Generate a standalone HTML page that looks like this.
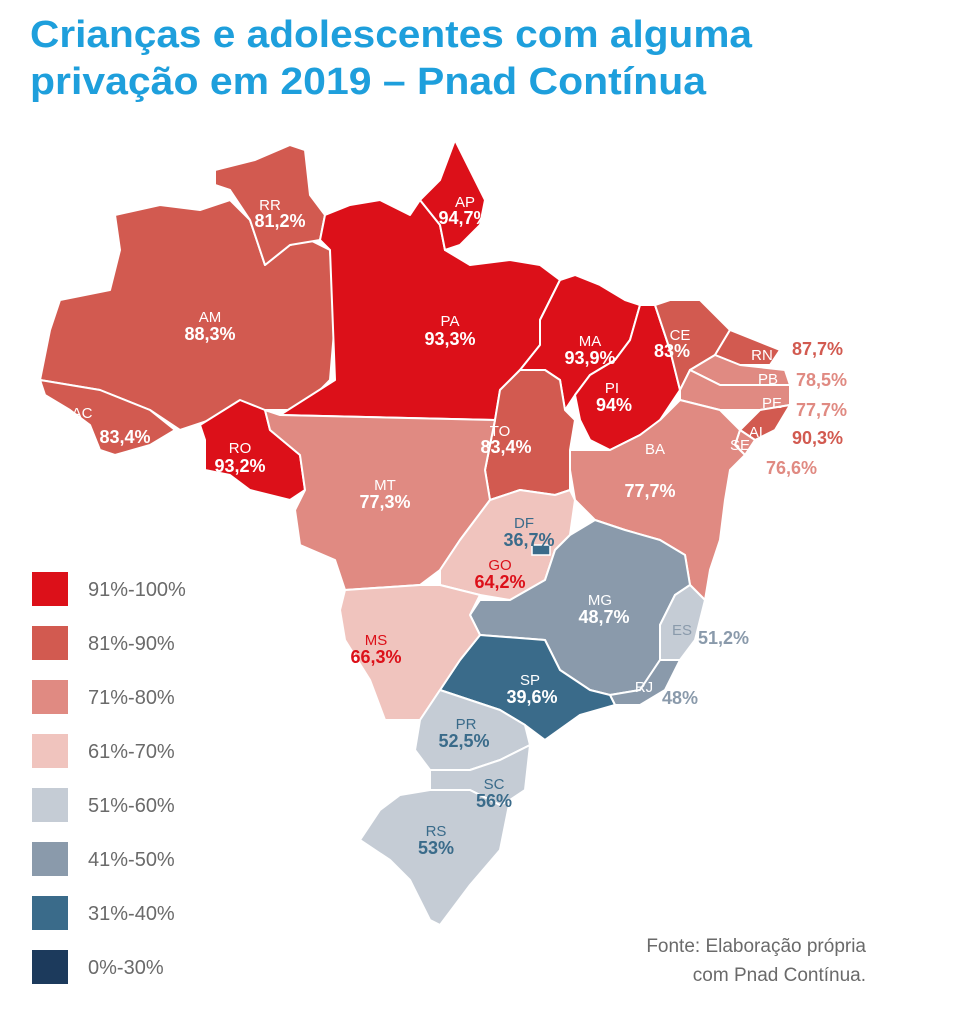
<!DOCTYPE html>
<html><head><meta charset="utf-8"><style>
body{margin:0;background:#fff;width:960px;height:1024px;overflow:hidden;font-family:"Liberation Sans",sans-serif}
</style></head><body>
<svg width="960" height="1024" viewBox="0 0 960 1024" xmlns="http://www.w3.org/2000/svg" font-family="Liberation Sans, sans-serif">
<text x="30" y="47" font-size="38" font-weight="bold" fill="#1e9fdc" textLength="722" lengthAdjust="spacingAndGlyphs">Crianças e adolescentes com alguma</text>
<text x="30" y="94" font-size="38" font-weight="bold" fill="#1e9fdc" textLength="676" lengthAdjust="spacingAndGlyphs">privação em 2019 – Pnad Contínua</text>
<g stroke="#fff" stroke-width="2" stroke-linejoin="round">
<polygon fill="#d25a50" points="40,380 50,330 60,300 110,290 120,250 115,215 160,205 200,210 230,200 250,220 265,265 290,245 310,240 330,250 335,320 330,380 300,410 230,410 210,420 180,430 150,410 100,390"/>
<polygon fill="#d25a50" points="40,380 100,390 150,410 175,430 150,445 115,455 100,450 90,425 70,410 45,395"/>
<polygon fill="#d25a50" points="215,170 255,160 290,145 305,150 310,195 325,215 320,240 290,245 265,265 250,220 230,190 215,185"/>
<polygon fill="#dc1019" points="200,425 240,400 265,410 270,430 300,455 305,490 290,500 250,490 230,475 205,470 205,440"/>
<polygon fill="#dc1019" points="325,215 350,205 380,200 410,215 420,200 440,225 445,250 470,265 510,260 540,265 560,280 540,320 540,345 520,370 500,390 495,420 280,415 335,380 330,250 320,240"/>
<polygon fill="#dc1019" points="420,200 440,180 455,140 470,170 485,200 480,225 460,245 445,250 440,225"/>
<polygon fill="#dc1019" points="560,280 575,275 600,285 625,300 640,305 630,340 615,360 590,375 575,395 565,410 560,380 545,370 520,370 540,345 540,320"/>
<polygon fill="#dc1019" points="640,305 655,305 670,350 680,390 660,420 640,435 610,450 590,440 580,420 575,395 590,375 615,360 630,340"/>
<polygon fill="#d25a50" points="655,305 670,300 700,300 730,330 715,355 690,370 680,390 670,350"/>
<polygon fill="#d25a50" points="730,330 755,340 780,350 770,365 740,365 715,355"/>
<polygon fill="#e08a82" points="715,355 740,365 785,370 790,385 740,385 720,385 690,370"/>
<polygon fill="#e08a82" points="690,370 720,385 790,385 790,405 760,410 720,410 680,400 680,390"/>
<polygon fill="#d25a50" points="760,410 790,405 775,430 755,440 740,430"/>
<polygon fill="#e08a82" points="740,430 755,440 745,455 735,445"/>
<polygon fill="#e08a82" points="640,435 660,420 680,400 720,410 740,430 735,445 745,455 730,470 725,500 720,540 710,570 705,600 690,585 685,555 660,540 625,530 595,520 575,500 570,470 570,450 610,450"/>
<polygon fill="#d25a50" points="495,420 500,390 520,370 545,370 560,380 565,410 575,420 570,450 570,470 570,490 555,495 520,490 490,500 485,470"/>
<polygon fill="#e08a82" points="280,415 495,420 485,470 490,500 475,520 460,540 440,570 420,585 345,590 335,560 300,545 295,510 305,490 300,455 270,430 265,410"/>
<polygon fill="#f0c4be" points="490,500 520,490 555,495 570,490 575,500 570,535 555,550 545,580 510,600 480,595 460,590 440,585 440,570 460,540 475,520"/>
<polygon fill="#8a9aab" points="570,535 595,520 625,530 660,540 685,555 690,585 675,595 660,625 660,660 640,690 610,695 590,690 560,670 545,640 480,635 470,615 480,600 510,600 545,580 555,550"/>
<polygon fill="#c5ccd5" points="690,585 705,600 695,640 680,660 660,660 660,625 675,595"/>
<polygon fill="#8a9aab" points="640,690 660,660 680,660 665,690 640,705 615,705 610,695"/>
<polygon fill="#3a6b8a" points="480,635 545,640 560,670 590,690 610,695 615,705 580,715 545,740 525,725 500,710 470,700 440,690 460,660"/>
<polygon fill="#f0c4be" points="345,590 420,585 440,585 460,590 480,595 470,615 480,635 460,660 440,690 420,720 385,720 370,680 345,640 340,610"/>
<polygon fill="#c5ccd5" points="420,720 440,690 470,700 500,710 525,725 530,745 500,760 470,770 430,770 415,750"/>
<polygon fill="#c5ccd5" points="430,770 470,770 500,760 530,745 525,790 510,800 500,805 470,790 430,790"/>
<polygon fill="#c5ccd5" points="430,790 470,790 500,805 510,800 500,850 470,885 440,925 430,920 410,880 390,860 360,840 380,810 400,795"/>
</g>
<rect x="532" y="545" width="18" height="10" fill="#3a6b8a" stroke="#fff" stroke-width="1.5"/>
<g font-size="15" fill="#fff" text-anchor="middle">
<text x="270" y="210">RR</text><text x="465" y="207">AP</text><text x="210" y="322">AM</text><text x="450" y="326">PA</text><text x="590" y="346">MA</text><text x="680" y="340">CE</text><text x="762" y="360">RN</text><text x="768" y="384">PB</text><text x="772" y="408">PE</text><text x="758" y="437">AL</text><text x="740" y="450">SE</text><text x="612" y="393">PI</text><text x="82" y="418">AC</text><text x="240" y="453">RO</text><text x="500" y="436">TO</text><text x="655" y="454">BA</text><text x="385" y="490">MT</text><text x="524" y="528" fill="#3a6b8a">DF</text><text x="500" y="570" fill="#dc1019">GO</text><text x="600" y="605">MG</text><text x="682" y="635" fill="#8a9aab">ES</text><text x="376" y="645" fill="#dc1019">MS</text><text x="530" y="685">SP</text><text x="644" y="692">RJ</text><text x="466" y="729" fill="#3a6b8a">PR</text><text x="494" y="789" fill="#3a6b8a">SC</text><text x="436" y="836" fill="#3a6b8a">RS</text>
</g>
<g font-size="18" font-weight="bold" fill="#fff" text-anchor="middle">
<text x="280" y="227">81,2%</text><text x="464" y="224">94,7%</text><text x="210" y="340">88,3%</text><text x="450" y="345">93,3%</text><text x="590" y="364">93,9%</text><text x="672" y="357">83%</text><text x="614" y="411">94%</text><text x="125" y="443">83,4%</text><text x="240" y="472">93,2%</text><text x="506" y="453">83,4%</text><text x="650" y="497">77,7%</text><text x="385" y="508">77,3%</text>
<text x="529" y="546" fill="#3a6b8a">36,7%</text><text x="500" y="588" fill="#dc1019">64,2%</text><text x="604" y="623">48,7%</text><text x="376" y="663" fill="#dc1019">66,3%</text><text x="532" y="703">39,6%</text><text x="464" y="747" fill="#3a6b8a">52,5%</text><text x="494" y="807" fill="#3a6b8a">56%</text><text x="436" y="854" fill="#3a6b8a">53%</text>
</g>
<g font-size="18" font-weight="bold" text-anchor="start">
<text x="792" y="355" fill="#d25a50">87,7%</text><text x="796" y="386" fill="#e08a82">78,5%</text><text x="796" y="416" fill="#e08a82">77,7%</text><text x="792" y="444" fill="#d25a50">90,3%</text><text x="766" y="474" fill="#e08a82">76,6%</text><text x="698" y="644" fill="#8a9aab">51,2%</text><text x="662" y="704" fill="#8a9aab">48%</text>
</g>
<g font-size="20" fill="#6a6a6a">
<rect x="32" y="572" width="36" height="34" fill="#dc1019"/><text x="88" y="596">91%-100%</text>
<rect x="32" y="626" width="36" height="34" fill="#d25a50"/><text x="88" y="650">81%-90%</text>
<rect x="32" y="680" width="36" height="34" fill="#e08a82"/><text x="88" y="704">71%-80%</text>
<rect x="32" y="734" width="36" height="34" fill="#f0c4be"/><text x="88" y="758">61%-70%</text>
<rect x="32" y="788" width="36" height="34" fill="#c5ccd5"/><text x="88" y="812">51%-60%</text>
<rect x="32" y="842" width="36" height="34" fill="#8a9aab"/><text x="88" y="866">41%-50%</text>
<rect x="32" y="896" width="36" height="34" fill="#3a6b8a"/><text x="88" y="920">31%-40%</text>
<rect x="32" y="950" width="36" height="34" fill="#1c3a5c"/><text x="88" y="974">0%-30%</text>
</g>
<g font-size="19" fill="#6a6a6a" text-anchor="end">
<text x="866" y="952">Fonte: Elaboração própria</text>
<text x="866" y="981">com Pnad Contínua.</text>
</g>
</svg>
</body></html>
